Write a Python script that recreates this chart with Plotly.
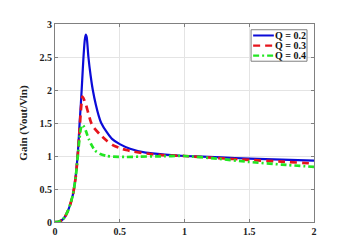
import plotly.graph_objects as go

# Normalized frequency / gain
fn_q02 = [0, 0.03, 0.06, 0.08, 0.10, 0.12, 0.14, 0.16, 0.17, 0.18, 0.19, 0.20, 0.21, 0.22, 0.23, 0.238,
          0.245, 0.258, 0.275, 0.292, 0.315, 0.336, 0.357, 0.40, 0.44, 0.50, 0.58, 0.70, 0.85, 1.0,
          1.28, 1.5, 1.75, 2.0]
gain_q02 = [0, 0.005, 0.04, 0.09, 0.17, 0.28, 0.43, 0.70, 0.90, 1.15, 1.50, 1.80, 2.15, 2.50, 2.76, 2.84,
            2.80, 2.50, 2.22, 2.00, 1.78, 1.62, 1.50, 1.36, 1.26, 1.18, 1.11, 1.05, 1.02, 1.0,
            0.98, 0.96, 0.945, 0.93]

fn_q03 = [0, 0.03, 0.06, 0.08, 0.10, 0.12, 0.14, 0.16, 0.17, 0.18, 0.19, 0.20, 0.212, 0.225, 0.24,
          0.258, 0.28, 0.30, 0.35, 0.40, 0.45, 0.50, 0.55, 0.61, 0.74, 0.85, 1.0, 1.25, 1.5, 1.75, 2.0]
gain_q03 = [0, 0.005, 0.04, 0.09, 0.17, 0.28, 0.43, 0.68, 0.88, 1.12, 1.40, 1.70, 1.90, 1.85, 1.77,
            1.64, 1.50, 1.43, 1.32, 1.23, 1.16, 1.12, 1.09, 1.065, 1.03, 1.01, 1.0, 0.97, 0.94, 0.915, 0.885]

fn_q04 = [0, 0.03, 0.06, 0.08, 0.10, 0.12, 0.14, 0.16, 0.17, 0.18, 0.19, 0.20, 0.212, 0.225, 0.24,
          0.26, 0.284, 0.31, 0.35, 0.40, 0.45, 0.55, 0.65, 0.80, 1.0, 1.25, 1.5, 1.75, 2.0]
gain_q04 = [0, 0.005, 0.04, 0.09, 0.17, 0.28, 0.43, 0.68, 0.88, 1.08, 1.28, 1.42, 1.47, 1.44, 1.37,
            1.26, 1.16, 1.08, 1.03, 1.00, 0.99, 0.985, 0.99, 0.995, 1.0, 0.96, 0.91, 0.87, 0.835]

series_names = ["Q = 0.2", "Q = 0.3", "Q = 0.4"]
x_ticks = [0, 0.5, 1, 1.5, 2]
x_tick_labels = ["0", "0.5", "1", "1.5", "2"]
y_ticks = [0, 0.5, 1, 1.5, 2, 2.5, 3]
y_tick_labels = ["0", "0.5", "1", "1.5", "2", "2.5", "3"]

FONT = "Liberation Serif"
colors = ["#0b0bd8", "#e6141c", "#22e622"]
widths = [2.2, 2.7, 2.7]
dashes = ["solid", "7px,5px", "6px,3px,2px,3px"]

fig = go.Figure()
for xs, ys, name, c, w, d in zip([fn_q02, fn_q03, fn_q04], [gain_q02, gain_q03, gain_q04],
                                 series_names, colors, widths, dashes):
    fig.add_trace(go.Scatter(x=xs, y=ys, mode="lines", name=name, showlegend=False,
                             line=dict(color=c, width=w, dash=d, shape="spline", smoothing=0.6)))

axis_common = dict(
    showline=True, linecolor="#808080", linewidth=1, mirror="ticks",
    ticks="inside", ticklen=3, tickcolor="#808080",
    showgrid=True, gridcolor="#e4e4e4", gridwidth=1, zeroline=False,
    tickfont=dict(family=FONT, size=10, color="#222", weight="bold"),
)

fig.update_xaxes(range=[0, 2], tickvals=x_ticks, ticktext=x_tick_labels, **axis_common)
fig.update_yaxes(range=[0, 3], tickvals=y_ticks, ticktext=y_tick_labels,
                 title=dict(text="Gain (Vout/Vin)", font=dict(family=FONT, size=11, color="#222", weight="bold"),
                            standoff=9),
                 **axis_common)

# Compact legend box (MATLAB style) drawn in paper coordinates
lx0, lx1, ly0, ly1 = 0.757, 0.973, 0.812, 0.971
fig.add_shape(type="rect", xref="paper", yref="paper", x0=lx0, x1=lx1, y0=ly0, y1=ly1,
              line=dict(color="#808080", width=1), fillcolor="white", layer="above")
entry_y = [0.942, 0.891, 0.840]
for name, c, w, d, ey in zip(series_names, colors, widths, dashes, entry_y):
    fig.add_shape(type="line", xref="paper", yref="paper", x0=0.765, x1=0.845, y0=ey, y1=ey,
                  line=dict(color=c, width=2 if d == "solid" else 2.2, dash=d), layer="above")
    fig.add_annotation(xref="paper", yref="paper", x=0.843, y=ey, xanchor="left", yanchor="middle",
                       text=name, showarrow=False,
                       font=dict(family=FONT, size=10, color="#111", weight="bold"))

fig.update_layout(
    width=337, height=249,
    margin=dict(l=55, r=23, t=24, b=17),
    paper_bgcolor="white", plot_bgcolor="white",
    showlegend=False,
)

fig.write_html("out.html")
